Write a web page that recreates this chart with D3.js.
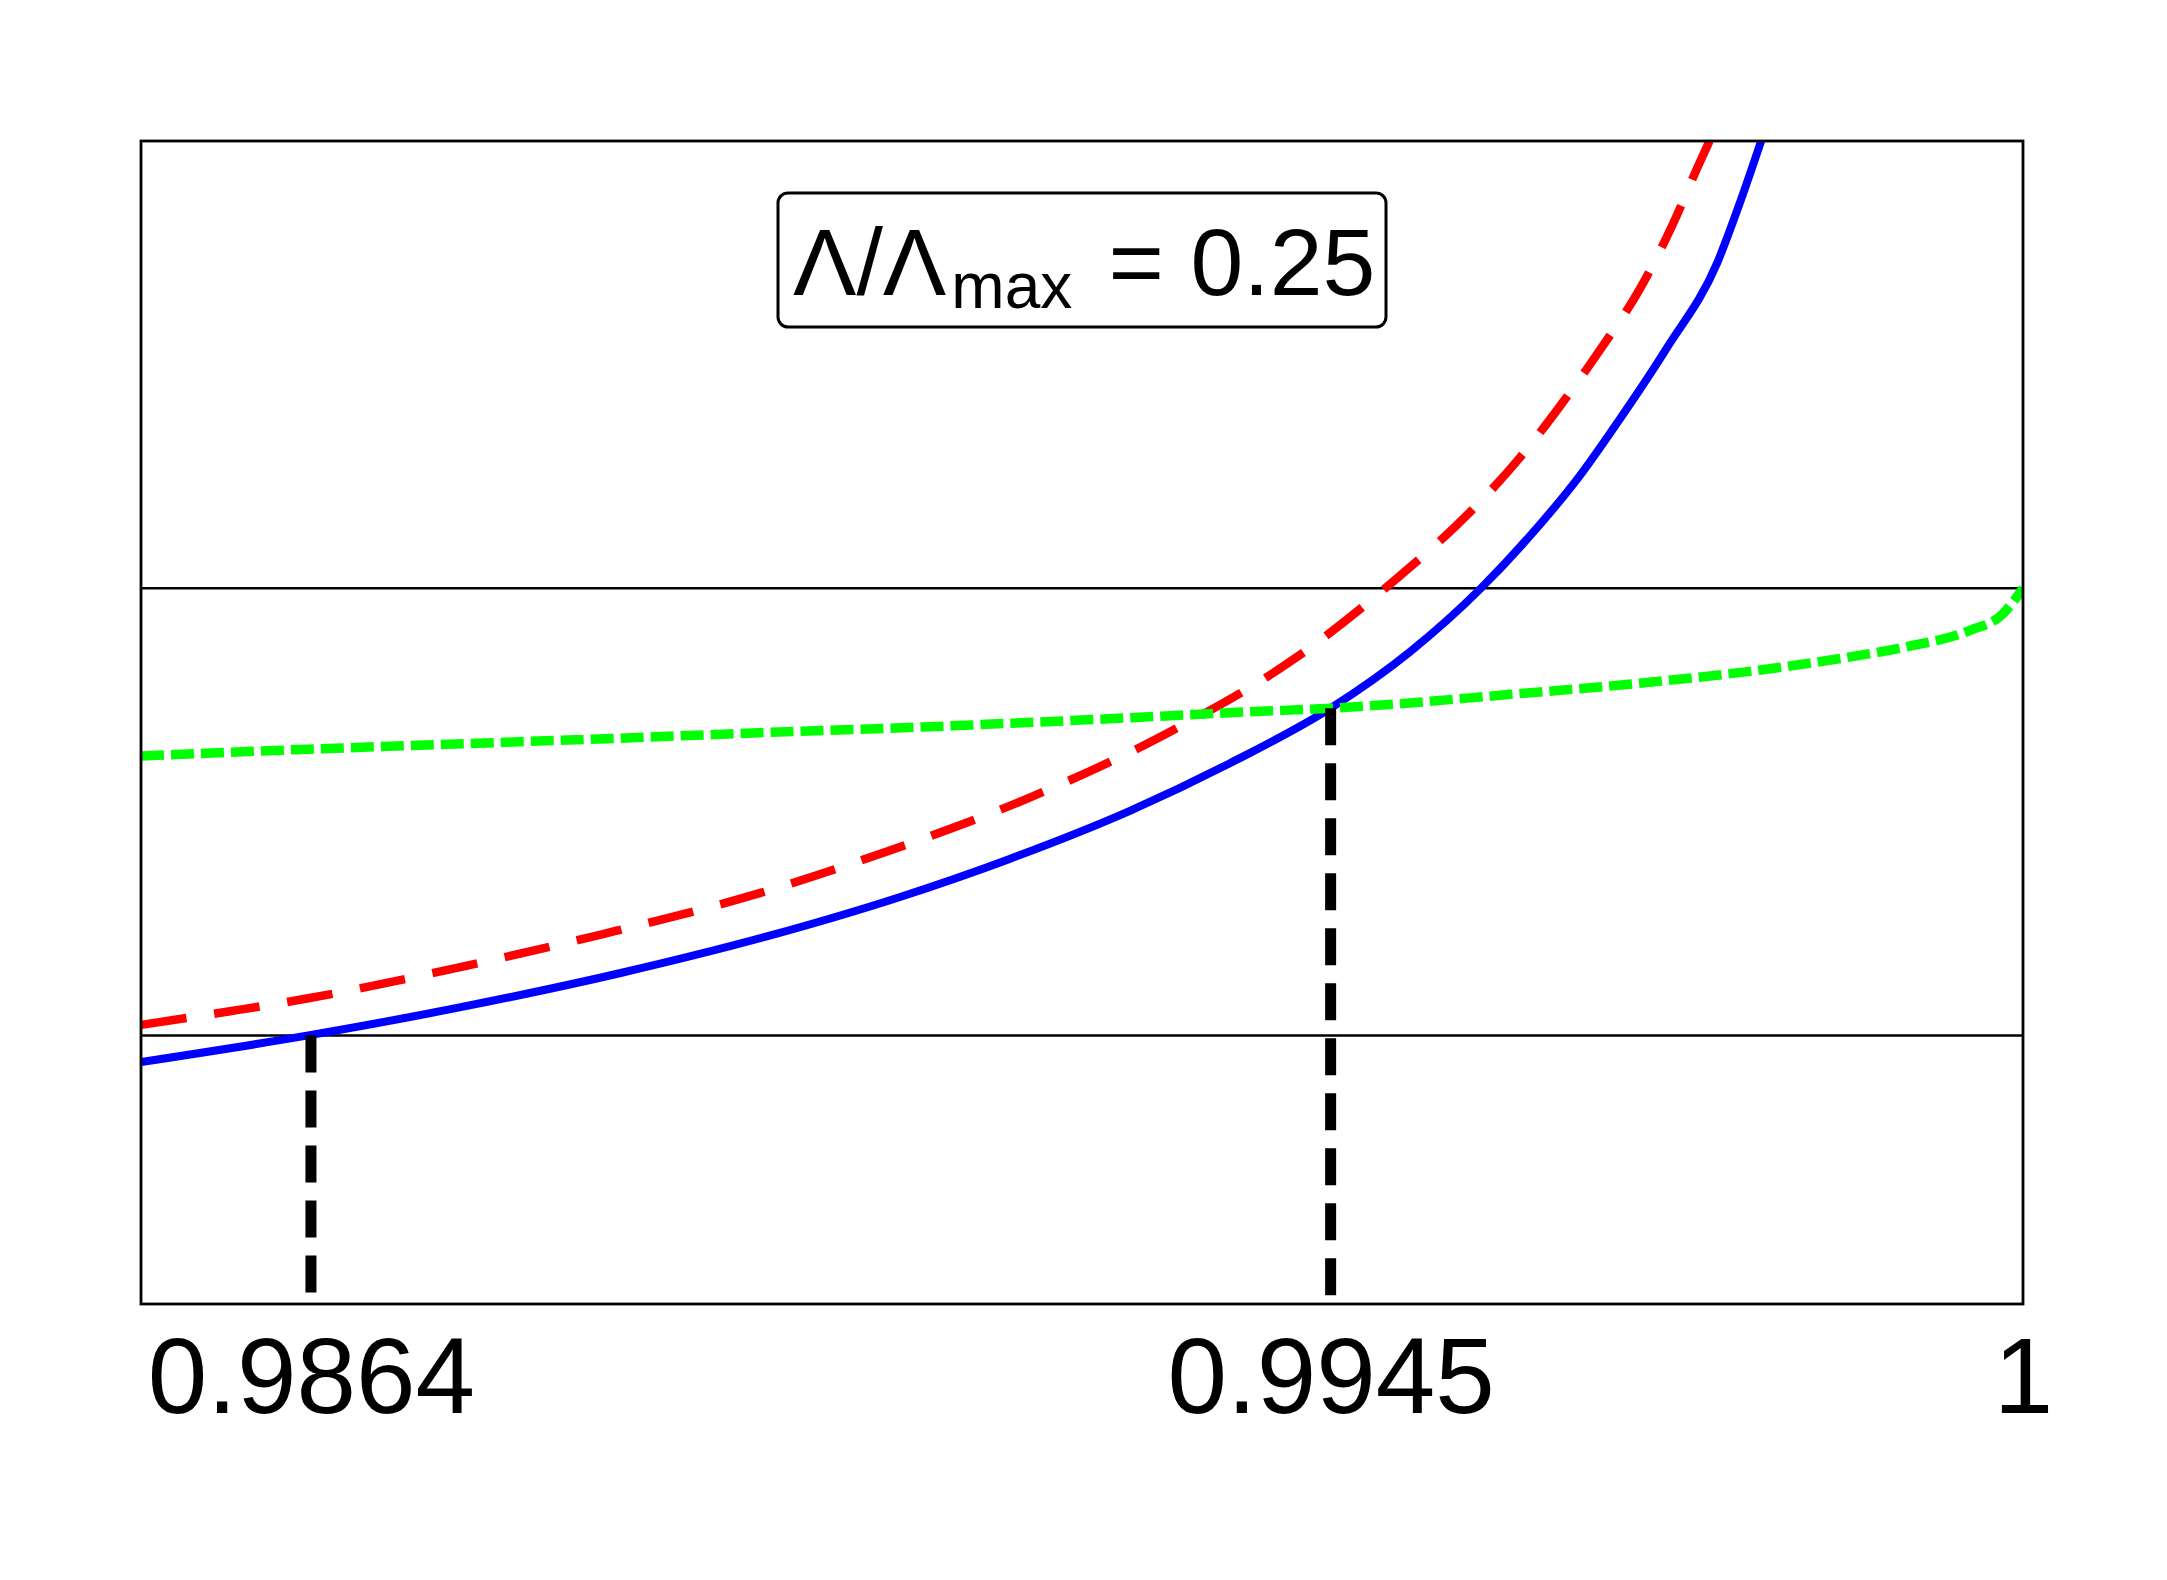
<!DOCTYPE html>
<html>
<head>
<meta charset="utf-8">
<script src="https://cdnjs.cloudflare.com/ajax/libs/d3/7.8.5/d3.min.js"></script>
<style>
  body { margin: 0; background: #fff; }
  svg { display: block; font-family: "Liberation Sans", Arial, sans-serif; }
</style>
</head>
<body>
<div id="chart"></div>
<script>
'use strict';

// values
var xTicks = [0.9864, 0.9945, 1];
var xTickLabels = ['0.9864', '0.9945', '1'];
var yGrid = [1, 2];

var blueX = [0.98505, 0.98639, 0.98758, 0.98886, 0.99005, 0.99108, 0.99195, 0.99291, 0.99370, 0.99450,
             0.99513, 0.99569, 0.99608, 0.99648, 0.99674, 0.99717, 0.99757, 0.99775, 0.99792];
var blueY = [0.941, 1.001, 1.063, 1.140, 1.224, 1.310, 1.395, 1.503, 1.609, 1.732,
             1.858, 1.999, 2.116, 2.252, 2.355, 2.537, 2.727, 2.861, 3.0];

var redX = [0.98505, 0.98577, 0.98639, 0.98755, 0.98872, 0.98997, 0.99101, 0.99210, 0.99321, 0.99422,
            0.99503, 0.99561, 0.99600, 0.99630, 0.99664, 0.99696, 0.99722, 0.99743, 0.99751];
var redY = [1.024, 1.055, 1.084, 1.151, 1.227, 1.319, 1.415, 1.531, 1.677, 1.844,
            2.023, 2.171, 2.291, 2.399, 2.533, 2.671, 2.815, 2.951, 3.0];

var greenX = [0.98505, 0.98626, 0.98755, 0.98886, 0.99005, 0.99126, 0.99256, 0.99386, 0.99450, 0.99500,
              0.99589, 0.99689, 0.99790, 0.99857, 0.99907, 0.99957, 0.99984, 1.0];
var greenY = [1.625, 1.639, 1.652, 1.665, 1.678, 1.690, 1.706, 1.724, 1.732, 1.741,
              1.762, 1.786, 1.817, 1.844, 1.869, 1.905, 1.943, 2.0];

// vertical markers: x position and the curve value they reach
var markX = [0.9864, 0.9945];
var markY = [1.0, 1.732];

var ratioText = '0.25';

var width = 2167, height = 1580;
var margin = {top: 141, right: 144, bottom: 276, left: 141};
var w = width - margin.left - margin.right;
var h = height - margin.top - margin.bottom;

var svg = d3.select('#chart').append('svg')
    .attr('width', width)
    .attr('height', height);

svg.append('rect').attr('width', width).attr('height', height).attr('fill', '#fff');

var g = svg.append('g').attr('transform', 'translate(' + margin.left + ',' + margin.top + ')');

var x = d3.scaleLinear().domain([0.98505, 1]).range([0, w]);
var y = d3.scaleLinear().domain([0.4, 3]).range([h, 0]);

g.append('clipPath').attr('id', 'clip')
  .append('rect').attr('width', w).attr('height', h);

// grid lines
g.selectAll('.grid')
    .data(yGrid)
    .enter()
    .append('line')
    .attr('class', 'grid')
    .attr('x1', 0).attr('x2', w)
    .attr('y1', function(d) { return y(d); })
    .attr('y2', function(d) { return y(d); })
    .attr('stroke', '#000')
    .attr('stroke-width', 2.5);

var line = d3.line()
    .x(function(d) { return x(d[0]); })
    .y(function(d) { return y(d[1]); })
    .curve(d3.curveMonotoneX);

function pairs(xs, ys) {
  return xs.map(function(v, i) { return [v, ys[i]]; });
}

var curves = g.append('g').attr('clip-path', 'url(#clip)');

curves.append('path')
    .datum(pairs(blueX, blueY))
    .attr('d', line)
    .attr('fill', 'none')
    .attr('stroke', '#0000ff')
    .attr('stroke-width', 8);

curves.append('path')
    .datum(pairs(redX, redY))
    .attr('d', line)
    .attr('fill', 'none')
    .attr('stroke', '#ff0000')
    .attr('stroke-width', 8.5)
    .attr('stroke-dasharray', '46,28');

curves.append('path')
    .datum(pairs(greenX, greenY))
    .attr('d', line)
    .attr('fill', 'none')
    .attr('stroke', '#00ff00')
    .attr('stroke-width', 9.5)
    .attr('stroke-dasharray', '23,7');

// black dashed markers
g.selectAll('.mark')
    .data(markX)
    .enter()
    .append('line')
    .attr('class', 'mark')
    .attr('x1', function(d) { return x(d); })
    .attr('x2', function(d) { return x(d); })
    .attr('y1', function(d, i) { return y(markY[i]); })
    .attr('y2', h)
    .attr('stroke', '#000')
    .attr('stroke-width', 11)
    .attr('stroke-dasharray', '37,18');

// frame
g.append('rect')
    .attr('width', w).attr('height', h)
    .attr('fill', 'none')
    .attr('stroke', '#000')
    .attr('stroke-width', 2.8);

// x axis labels
var xAxis = d3.axisBottom(x)
    .tickValues(xTicks)
    .tickFormat(function(d, i) { return xTickLabels[i]; })
    .tickSize(0)
    .tickPadding(33);

var ax = g.append('g')
    .attr('transform', 'translate(0,' + h + ')')
    .call(xAxis);
ax.select('.domain').remove();
ax.selectAll('text')
    .attr('font-size', 107)
    .attr('font-family', '"Liberation Sans", Arial, sans-serif')
    .attr('fill', '#000');

// annotation box
svg.append('rect')
    .attr('x', 778).attr('y', 193)
    .attr('width', 608).attr('height', 134)
    .attr('rx', 10).attr('ry', 10)
    .attr('fill', '#fff')
    .attr('stroke', '#000')
    .attr('stroke-width', 3);

var label = svg.append('text')
    .attr('x', 793).attr('y', 295)
    .attr('font-size', 95)
    .attr('fill', '#000');
label.append('tspan').text('\u039B/\u039B');
label.append('tspan').attr('font-size', 64).attr('dx', 5).attr('dy', 13).text('max');
label.append('tspan').attr('dx', 10).attr('dy', -13).text(' = ' + ratioText);
</script>
</body>
</html>
